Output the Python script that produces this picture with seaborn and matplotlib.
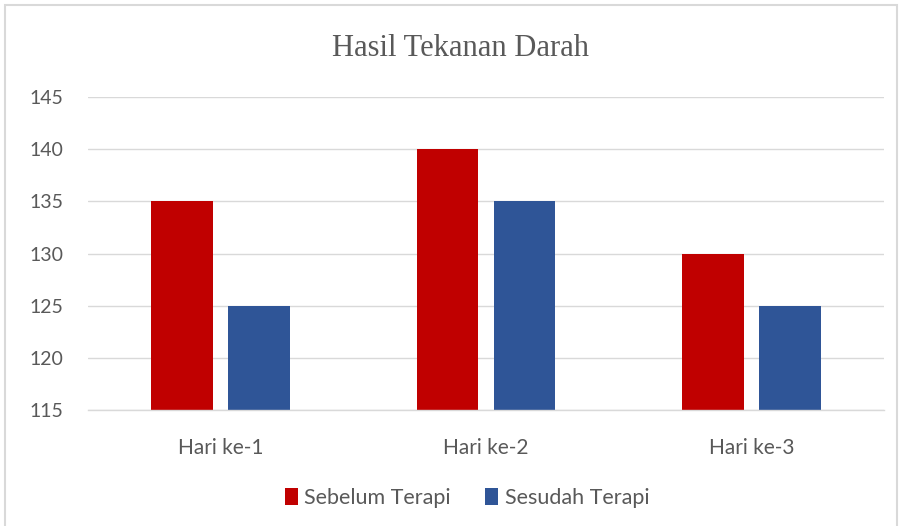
import matplotlib
matplotlib.use("Agg")
import matplotlib.pyplot as plt
import seaborn as sns
import pandas as pd
from matplotlib.patches import Rectangle

categories = ["Hari ke-1", "Hari ke-2", "Hari ke-3"]
sebelum = [135, 140, 130]
sesudah = [125, 135, 125]
series_names = ["Sebelum Terapi", "Sesudah Terapi"]
yticks = [115, 120, 125, 130, 135, 140, 145]

df = pd.DataFrame({
    "Hari": categories * 2,
    "Nilai": sebelum + sesudah,
    "Kelompok": [series_names[0]] * 3 + [series_names[1]] * 3,
})

sns.set_style("white")
plt.rcParams["font.family"] = ["Lato", "DejaVu Sans"]

fig = plt.figure(figsize=(9.02, 5.26), dpi=100)
ax = fig.add_axes([0.0976, 0.2205, 0.8824, 0.5951])

palette = {series_names[0]: "#C00000", series_names[1]: "#2F5597"}
sns.barplot(data=df, x="Hari", y="Nilai", hue="Kelompok", palette=palette,
            width=0.58, gap=0.2, ax=ax, saturation=1, legend=True, linewidth=0)

ax.set_ylim(115, 145)
ax.set_yticks(yticks)
ax.set_xlim(-0.5, 2.5)
ax.yaxis.grid(True, color="#D9D9D9", linewidth=1)
ax.set_axisbelow(True)
for s in ["top", "right", "left"]:
    ax.spines[s].set_visible(False)
ax.spines["bottom"].set_color("#D9D9D9")
ax.spines["bottom"].set_linewidth(1)
ax.tick_params(axis="y", length=0, labelsize=14, colors="#595959", pad=18)
ax.tick_params(axis="x", length=0, labelsize=15, colors="#595959", pad=20)
ax.set_xlabel("")
ax.set_ylabel("")

fig.text(0.511, 0.908, "Hasil Tekanan Darah", family="Liberation Serif",
         fontsize=22, color="#595959", ha="center", va="center")

handles, labels = ax.get_legend_handles_labels()
ax.legend_.remove()
fig.legend(handles, labels, loc="center", bbox_to_anchor=(0.518, 0.053), ncol=2,
           frameon=False, fontsize=15.5, handlelength=0.6, handleheight=0.8,
           handletextpad=0.3, columnspacing=1.6, labelcolor="#595959")

fig.add_artist(Rectangle((0.006, -0.01), 0.988, 1.0, transform=fig.transFigure,
                         fill=False, edgecolor="#D9D9D9", linewidth=1.5))

fig.savefig("out.png", dpi=100)
